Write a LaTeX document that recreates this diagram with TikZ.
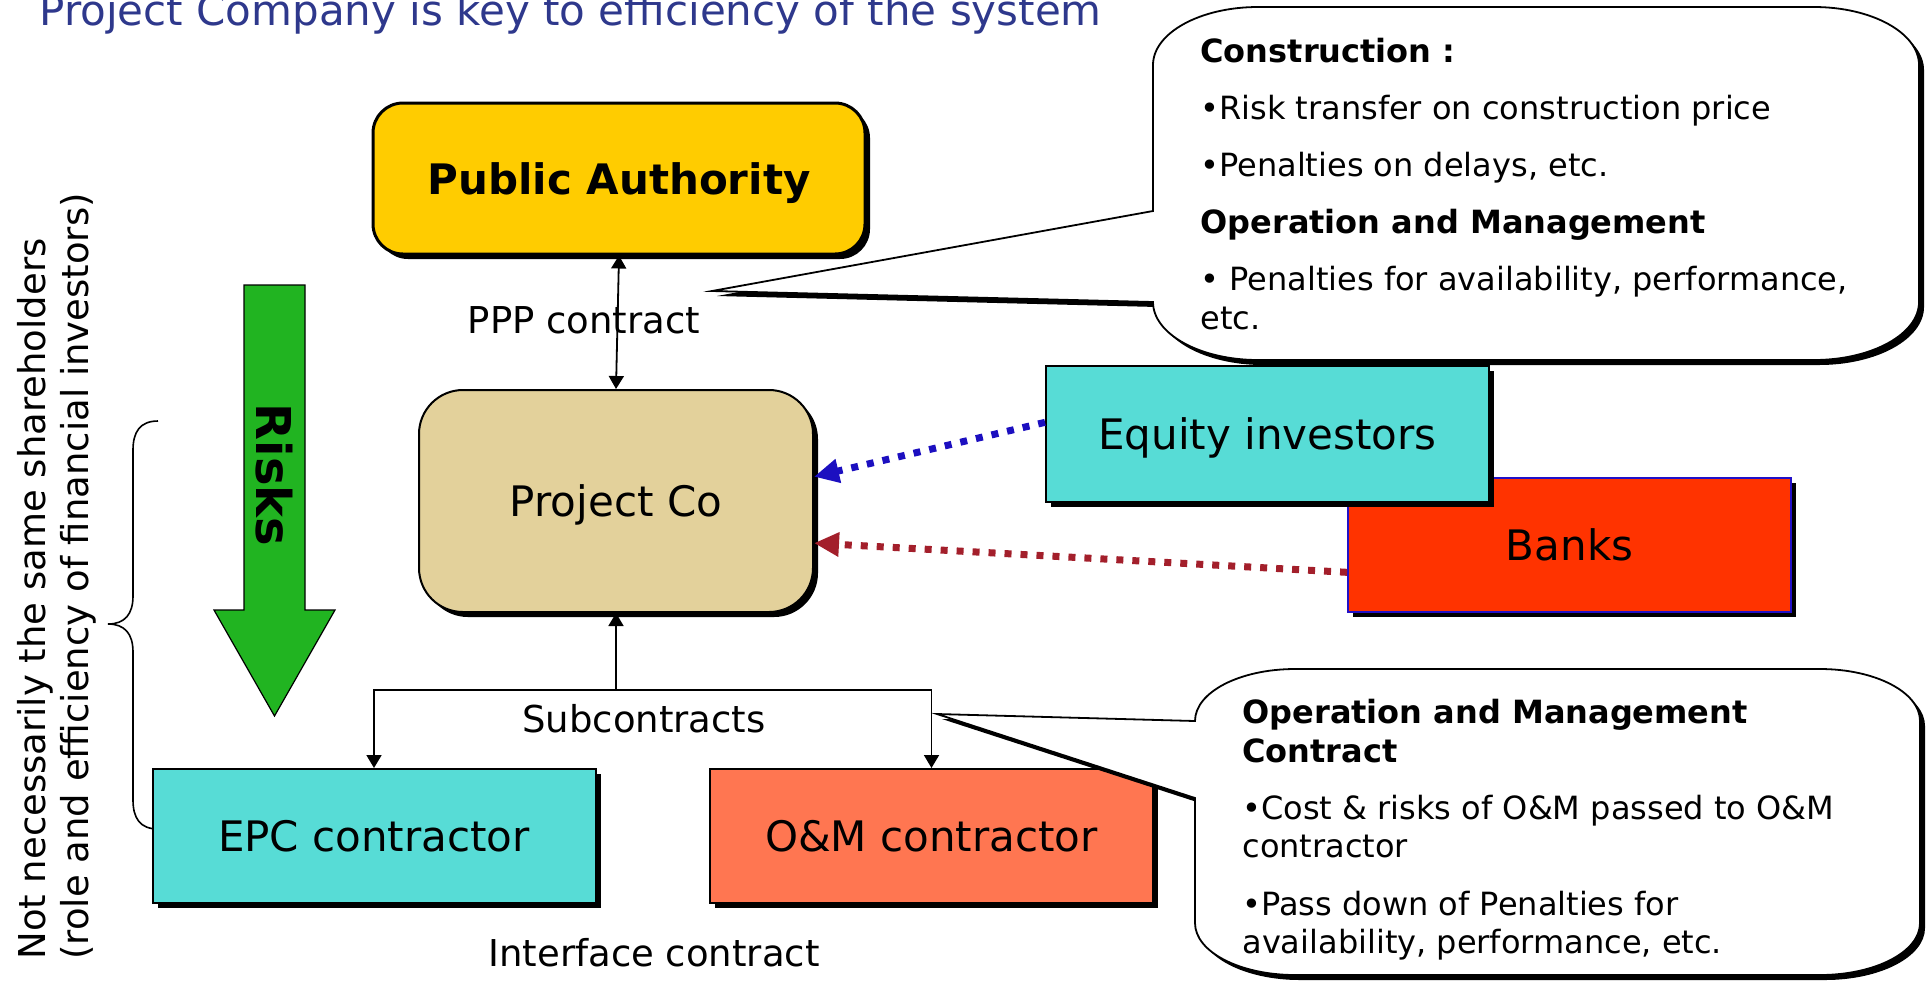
\documentclass[tikz,border=0pt]{standalone}
\usepackage{fontspec}
\setmainfont{DejaVu Sans}
\usetikzlibrary{arrows.meta,shadows}

\definecolor{titleblue}{RGB}{46,56,140}
\definecolor{gold}{RGB}{255,204,0}
\definecolor{tan}{RGB}{227,209,155}
\definecolor{turq}{RGB}{87,220,214}
\definecolor{bankred}{RGB}{255,51,0}
\definecolor{bankblue}{RGB}{34,16,200}
\definecolor{salmon}{RGB}{255,118,81}
\definecolor{riskgreen}{RGB}{33,180,33}
\definecolor{equityblue}{RGB}{28,15,192}
\definecolor{loanred}{RGB}{163,31,43}

\begin{document}
\begin{tikzpicture}[x=0.5, y=-0.5,
  boxshadow/.style={general shadow={fill=black, shadow xshift=2.5pt, shadow yshift=-2.5pt}},
  box/.style={draw, line width=1pt, inner sep=0pt, minimum width=221.5pt,
    minimum height=67pt, text depth=0pt, font=\fontsize{21}{25}\selectfont, boxshadow},
  label/.style={font=\fontsize{18.5}{22}\selectfont},
  callout/.style={draw, fill=white, line width=0.9pt, boxshadow},
  note/.style={align=left, anchor=north west, inner sep=0pt,
    font=\fontsize{16}{19.2}\selectfont},
  link/.style={line width=0.9pt, -{Triangle[length=6.5pt, width=7.5pt]}},
  feed/.style={line width=3.5pt, dash pattern=on 3.5pt off 4.5pt,
    -{Triangle[length=12.5pt, width=11.5pt]}}]
\useasboundingbox (0,0) rectangle (1926,982);

\node[anchor=base west, inner sep=0pt, text=titleblue,
  font=\fontsize{21}{25}\selectfont] (title) at (39,25)
  {Project Company is key to efficiency of the system};

% shareholders note and brace
\node[rotate=90, anchor=north west, align=left, inner sep=0pt,
  font=\fontsize{18.5}{21.5}\selectfont] (holders) at (17,960)
  {Not necessarily the same shareholders\\(role and efficiency of financial investors)};
\draw[line width=0.8pt] (158,421) .. controls (140,421) and (133,432) .. (133,450)
  -- (133,596) .. controls (133,614) and (125,624) .. (108,624)
  .. controls (125,624) and (133,634) .. (133,652)
  -- (133,800) .. controls (133,818) and (140,829) .. (158,829);

% risk arrow
\draw[fill=riskgreen, line width=0.6pt] (244,285) -- (305,285) -- (305,610) -- (335,610)
  -- (274.5,716) -- (214,610) -- (244,610) -- cycle;
\node[rotate=-90, font=\fontsize{24}{28}\selectfont\bfseries] (risks) at (274,475) {Risks};

% boxes
\node[box, fill=gold, line width=1.5pt, rounded corners=15pt, minimum width=246pt,
  minimum height=75.5pt] (pa) at (619,178.5) {\bfseries Public Authority};
\node[box, fill=tan, rounded corners=22pt, minimum width=197pt,
  minimum height=111pt] (pc) at (616,501) {Project Co};
\node[box, fill=bankred, draw=bankblue] (banks) at (1569.5,545) {Banks};
\node[box, fill=turq, minimum height=68pt] (eq) at (1267.5,434) {Equity investors};
\node[box, fill=turq] (epc) at (374,836) {EPC contractor};
\node[box, fill=salmon] (om) at (931.5,836) {O\&M contractor};

% contracts
\draw[link, {Triangle[length=6.5pt, width=7.5pt]}-{Triangle[length=6.5pt, width=7.5pt]}]
  (pa.south) -- (pc.north);
\node[label] (ppp) at (584,320) {PPP contract};
\coordinate (split) at (616,690);
\draw[link] (split) -- (pc.south);
\draw[link] (split) -| (epc.north);
\draw[link] (split) -| (om.north);
\node[label] (sub) at (644,719) {Subcontracts};
\node[label] (iface) at (654,953) {Interface contract};

% funding
\draw[feed, equityblue] (eq.177) -- (pc.7);
\draw[feed, loanred] (banks.187) -- (pc.348);

% PPP contract callout
\coordinate (ppptip) at (712,291);
\draw[callout] (1258,7) -- (1814,7) .. controls (1872,7) and (1919,33) .. (1919,65)
  -- (1919,302) .. controls (1919,334) and (1872,360) .. (1814,360)
  -- (1258,360) .. controls (1200,360) and (1153,334) .. (1153,302)
  -- (ppptip) -- (1153,211)
  -- (1153,65) .. controls (1153,33) and (1200,7) .. (1258,7) -- cycle;
\node[note, font=\fontsize{16}{19.5}\selectfont] (pppnote) at (1200,38)
  {\bfseries Construction :\\[9pt]
   •Risk transfer on construction price\\[9pt]
   •Penalties on delays, etc.\\[9pt]
   \bfseries Operation and Management\\[9pt]
   • Penalties for availability, performance,\\
   etc.};

% O&M contract callout
\coordinate (omtip) at (937,714);
\draw[callout] (1295,669) -- (1820,669) .. controls (1875,669) and (1920,692) .. (1920,721)
  -- (1920,923) .. controls (1920,952) and (1875,975) .. (1820,975)
  -- (1295,975) .. controls (1240,975) and (1195,952) .. (1195,923)
  -- (1195,798) -- (omtip) -- (1195,721)
  .. controls (1195,692) and (1240,669) .. (1295,669) -- cycle;
\node[note] (omnote) at (1242,699)
  {\bfseries Operation and Management\\
   \bfseries Contract\\[9.5pt]
   •Cost \& risks of O\&M passed to O\&M\\
   contractor\\[9.5pt]
   •Pass down of Penalties for\\
   availability, performance, etc.};
\end{tikzpicture}
\end{document}
